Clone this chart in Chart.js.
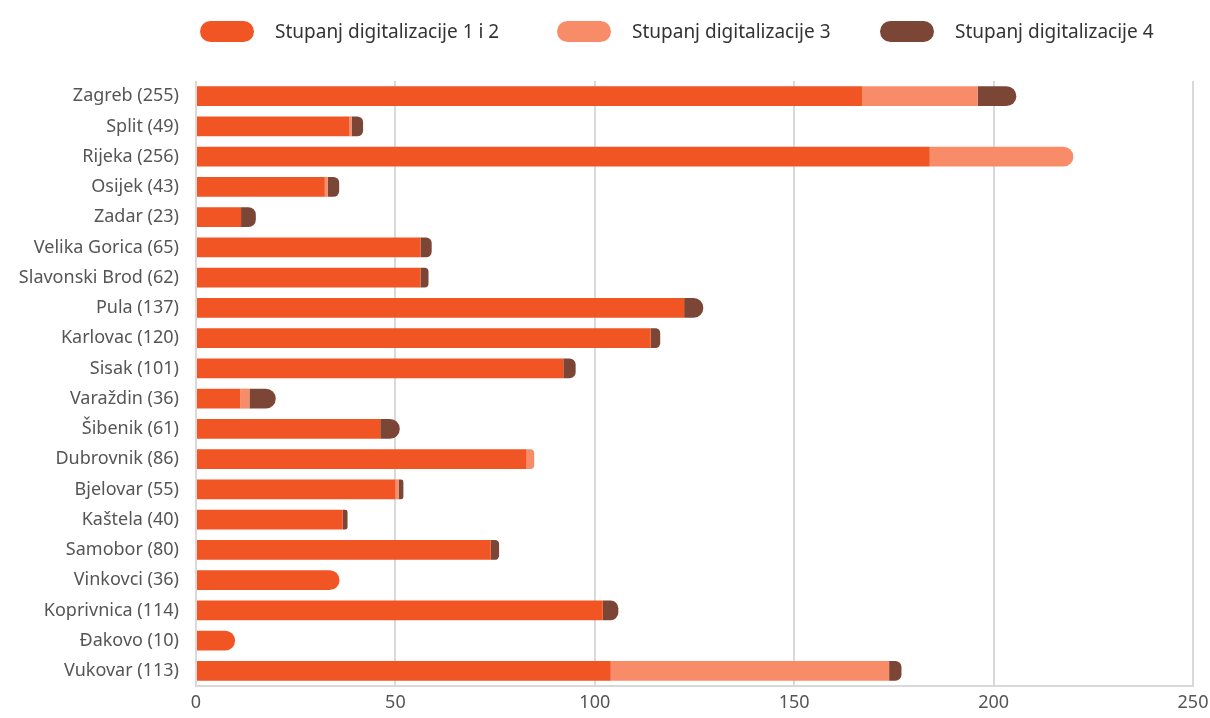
<!DOCTYPE html>
<html>
<head>
<meta charset="utf-8">
<script src="https://cdn.jsdelivr.net/npm/chart.js@4.4.1/dist/chart.umd.min.js"></script>
<style>
  html, body { margin: 0; padding: 0; background: #fff; }
  #wrap { position: relative; width: 1210px; height: 718px; }
  #legend { position: absolute; left: 200px; top: 18px; display: flex; font: 19px "Noto Sans", sans-serif; color: #333; }
  .item { display: flex; align-items: center; }
  .pill { width: 54px; height: 21px; border-radius: 11px; margin-right: 21px; }
</style>
</head>
<body>
<div id="wrap">
  <div id="legend"></div>
  <canvas id="chart" width="1210" height="718"></canvas>
</div>
<script>
// ====== DATA ======
const cities = [
  "Zagreb (255)", "Split (49)", "Rijeka (256)", "Osijek (43)", "Zadar (23)",
  "Velika Gorica (65)", "Slavonski Brod (62)", "Pula (137)", "Karlovac (120)", "Sisak (101)",
  "Varaždin (36)", "Šibenik (61)", "Dubrovnik (86)", "Bjelovar (55)", "Kaštela (40)",
  "Samobor (80)", "Vinkovci (36)", "Koprivnica (114)", "Đakovo (10)", "Vukovar (113)"
];
const seriesNames = ["Stupanj digitalizacije 1 i 2", "Stupanj digitalizacije 3", "Stupanj digitalizacije 4"];
const level12 = [167, 38.5, 184, 32.3, 11.3, 56.3, 56.3, 122.4, 114, 92.1, 11.1, 46.2, 82.9, 50, 36.8, 73.9, 36, 102, 9.8, 104];
const level3 = [29, 0.5, 36, 0.7, 0, 0, 0, 0, 0, 0, 2.3, 0, 1.9, 0.8, 0, 0, 0, 0, 0, 69.8];
const level4 = [9.7, 2.9, 0, 2.9, 3.7, 2.8, 2, 4.8, 2.4, 3.1, 6.6, 4.9, 0, 1.2, 1.2, 2.1, 0, 3.9, 0, 3.1];
const xTicks = [0, 50, 100, 150, 200, 250];

const colors = ["#f15524", "#f88c69", "#7b4636"];

// ====== LEGEND (html) ======
const legendWidths = [357, 323, null];
const legend = document.getElementById("legend");
seriesNames.forEach((name, i) => {
  const it = document.createElement("div");
  it.className = "item";
  if (legendWidths[i]) it.style.width = legendWidths[i] + "px";
  it.innerHTML = `<span class="pill" style="background:${colors[i]}"></span><span>${name}</span>`;
  legend.appendChild(it);
});

// ====== CHART ======
const tickFont = { family: "'Noto Sans', sans-serif", size: 18 };
const grey = "#d9d9d9";

new Chart(document.getElementById("chart"), {
  type: "bar",
  data: {
    labels: cities,
    datasets: [level12, level3, level4].map((d, i) => ({
      label: seriesNames[i],
      data: d,
      backgroundColor: colors[i],
      borderRadius: 12,
      borderSkipped: "start",
      categoryPercentage: 1,
      barPercentage: 0.66,
    })),
  },
  options: {
    indexAxis: "y",
    responsive: false,
    animation: false,
    layout: { padding: { top: 81, right: 1, bottom: 0, left: 0 } },
    plugins: {
      legend: { display: false },
      tooltip: { enabled: false },
    },
    scales: {
      x: {
        stacked: true,
        min: 0,
        max: 250,
        afterBuildTicks: (ax) => { ax.ticks = xTicks.map((v) => ({ value: v })); },
        afterFit: (ax) => { ax.height = 32; ax.paddingRight = 17; },
        ticks: { color: "#555", font: tickFont, padding: 6 },
        grid: { color: grey, lineWidth: 2, drawTicks: false },
        border: { color: grey, width: 2 },
      },
      y: {
        stacked: true,
        afterFit: (ax) => { ax.width = 196; },
        ticks: { color: "#555", font: tickFont, padding: 17 },
        grid: { display: false, drawTicks: false },
        border: { display: false },
      },
    },
  },
});
</script>
</body>
</html>
